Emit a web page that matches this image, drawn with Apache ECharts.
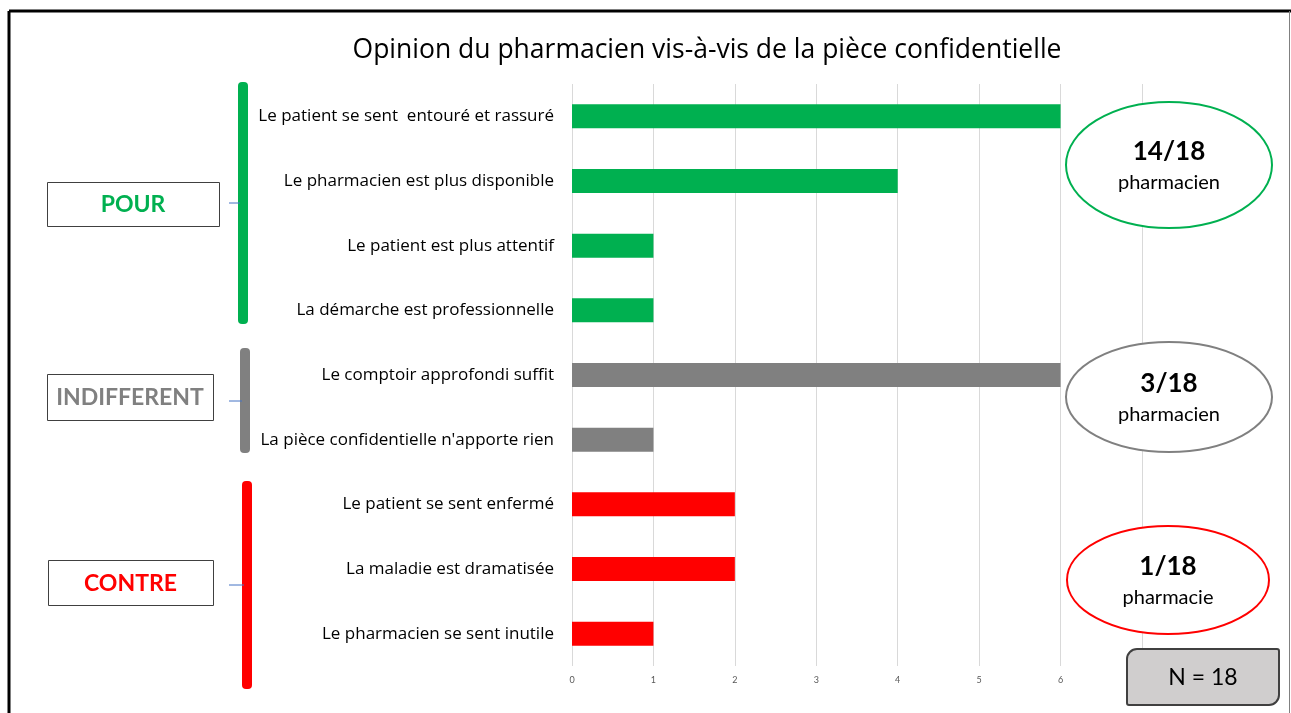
<!DOCTYPE html>
<html><head><meta charset="utf-8">
<script src="https://cdn.jsdelivr.net/npm/echarts@6/dist/echarts.min.js"></script>
<style>html,body{margin:0;padding:0;background:#fff}#c{width:1291px;height:713px}</style>
</head><body><div id="c"></div>
<script>
const categories = [
  "Le patient se sent  entouré et rassuré",
  "Le pharmacien est plus disponible",
  "Le patient est plus attentif",
  "La démarche est professionnelle",
  "Le comptoir approfondi suffit",
  "La pièce confidentielle n'apporte rien",
  "Le patient se sent enfermé",
  "La maladie est dramatisée",
  "Le pharmacien se sent inutile"
];
const values = [6, 4, 1, 1, 6, 1, 2, 2, 1];
const groupOf = [0, 0, 0, 0, 1, 1, 2, 2, 2];
const groupNames = ["POUR", "INDIFFERENT", "CONTRE"];
const groupColors = ["#00b050", "#808080", "#ff0000"];
const groupCounts = ["14/18", "3/18", "1/18"];
const groupUnits = ["pharmacien", "pharmacien", "pharmacie"];
const titleText = "Opinion du pharmacien vis-à-vis de la pièce confidentielle";
const nText = "N = 18";
const xTicks = [0, 1, 2, 3, 4, 5, 6, 7];

const FONT = "Lato";
const FONT2 = "'Open Sans'";
const chart = echarts.init(document.getElementById('c'), null, {renderer: 'canvas'});

// annotation layout (pixels)
const boxes = [
  {x: 47, y: 182, w: 172, h: 44},
  {x: 47, y: 374, w: 166, h: 46},
  {x: 48, y: 560, w: 165, h: 45}
];
const brackets = [
  {x: 238, y1: 82, y2: 324, ty: 203},
  {x: 240, y1: 348, y2: 453, ty: 401},
  {x: 242, y1: 481, y2: 689, ty: 585}
];
const ellipses = [
  {cx: 1169, cy: 165, rx: 103, ry: 63},
  {cx: 1169, cy: 397, rx: 103, ry: 55},
  {cx: 1168, cy: 580, rx: 101, ry: 54}
];

const graphic = [];
// outer frame
graphic.push({type: 'line', shape: {x1: 9, y1: 11, x2: 1291, y2: 11}, style: {stroke: '#000', lineWidth: 3}, z: 10});
graphic.push({type: 'line', shape: {x1: 9, y1: 11, x2: 9, y2: 713}, style: {stroke: '#000', lineWidth: 3}, z: 10});
graphic.push({type: 'line', shape: {x1: 1289.5, y1: 11, x2: 1289.5, y2: 713}, style: {stroke: '#808080', lineWidth: 1}, z: 10});

for (let g = 0; g < 3; g++) {
  const b = boxes[g], br = brackets[g], e = ellipses[g], col = groupColors[g];
  graphic.push({type: 'rect', shape: {x: b.x + 0.5, y: b.y + 0.5, width: b.w, height: b.h},
    style: {fill: '#fff', stroke: '#404040', lineWidth: 1}, z: 10});
  graphic.push({type: 'text', x: b.x + b.w / 2, y: b.y + b.h / 2 + 1,
    style: {text: groupNames[g], fill: col, font: "bold 23px " + FONT, align: 'center', verticalAlign: 'middle'}, z: 11});
  graphic.push({type: 'rect', shape: {x: br.x, y: br.y1, width: 10, height: br.y2 - br.y1, r: 4},
    style: {fill: col}, z: 10});
  graphic.push({type: 'line', shape: {x1: 229, y1: br.ty, x2: br.x + 2, y2: br.ty},
    style: {stroke: '#4472c4', lineWidth: 1}, z: 11});
  graphic.push({type: 'ellipse', shape: {cx: e.cx, cy: e.cy, rx: e.rx, ry: e.ry},
    style: {fill: '#fff', stroke: col, lineWidth: 2}, z: 10});
  graphic.push({type: 'text', x: e.cx, y: e.cy - 13,
    style: {text: groupCounts[g], fill: '#000', font: "bold 26px " + FONT, align: 'center', verticalAlign: 'middle'}, z: 11});
  graphic.push({type: 'text', x: e.cx, y: e.cy + 18,
    style: {text: groupUnits[g], fill: '#000', font: "20px " + FONT, align: 'center', verticalAlign: 'middle'}, z: 11});
}
// N box
graphic.push({type: 'rect', shape: {x: 1127, y: 649, width: 152, height: 56, r: [10, 2, 10, 2]},
  style: {fill: '#d0cece', stroke: '#404040', lineWidth: 2}, z: 10});
graphic.push({type: 'text', x: 1203, y: 678,
  style: {text: nText, fill: '#000', font: "23px " + FONT, align: 'center', verticalAlign: 'middle'}, z: 11});

chart.setOption({
  animation: false,
  backgroundColor: '#fff',
  title: {text: titleText, left: 702, top: 32, textAlign: 'center',
    textStyle: {fontFamily: FONT2, fontWeight: 'normal', fontSize: 26.5, color: '#000'}},
  grid: {left: 572, right: 149, top: 84, bottom: 47, containLabel: false},
  xAxis: {type: 'value', min: 0, max: 7, interval: 1,
    axisLine: {show: false}, axisTick: {show: false},
    splitLine: {show: true, lineStyle: {color: '#d9d9d9', width: 1}},
    axisLabel: {color: '#595959', fontSize: 9, fontFamily: FONT, margin: 10,
      formatter: v => xTicks.indexOf(v) >= 0 ? String(v) : ''}},
  yAxis: {type: 'category', data: categories, inverse: true,
    axisLine: {show: false}, axisTick: {show: false},
    axisLabel: {color: '#000', fontSize: 17, fontFamily: FONT2, margin: 18}},
  series: [{type: 'bar', barWidth: 24,
    data: values.map((v, i) => ({value: v, itemStyle: {color: groupColors[groupOf[i]]}}))}],
  graphic: graphic
});
</script></body></html>
